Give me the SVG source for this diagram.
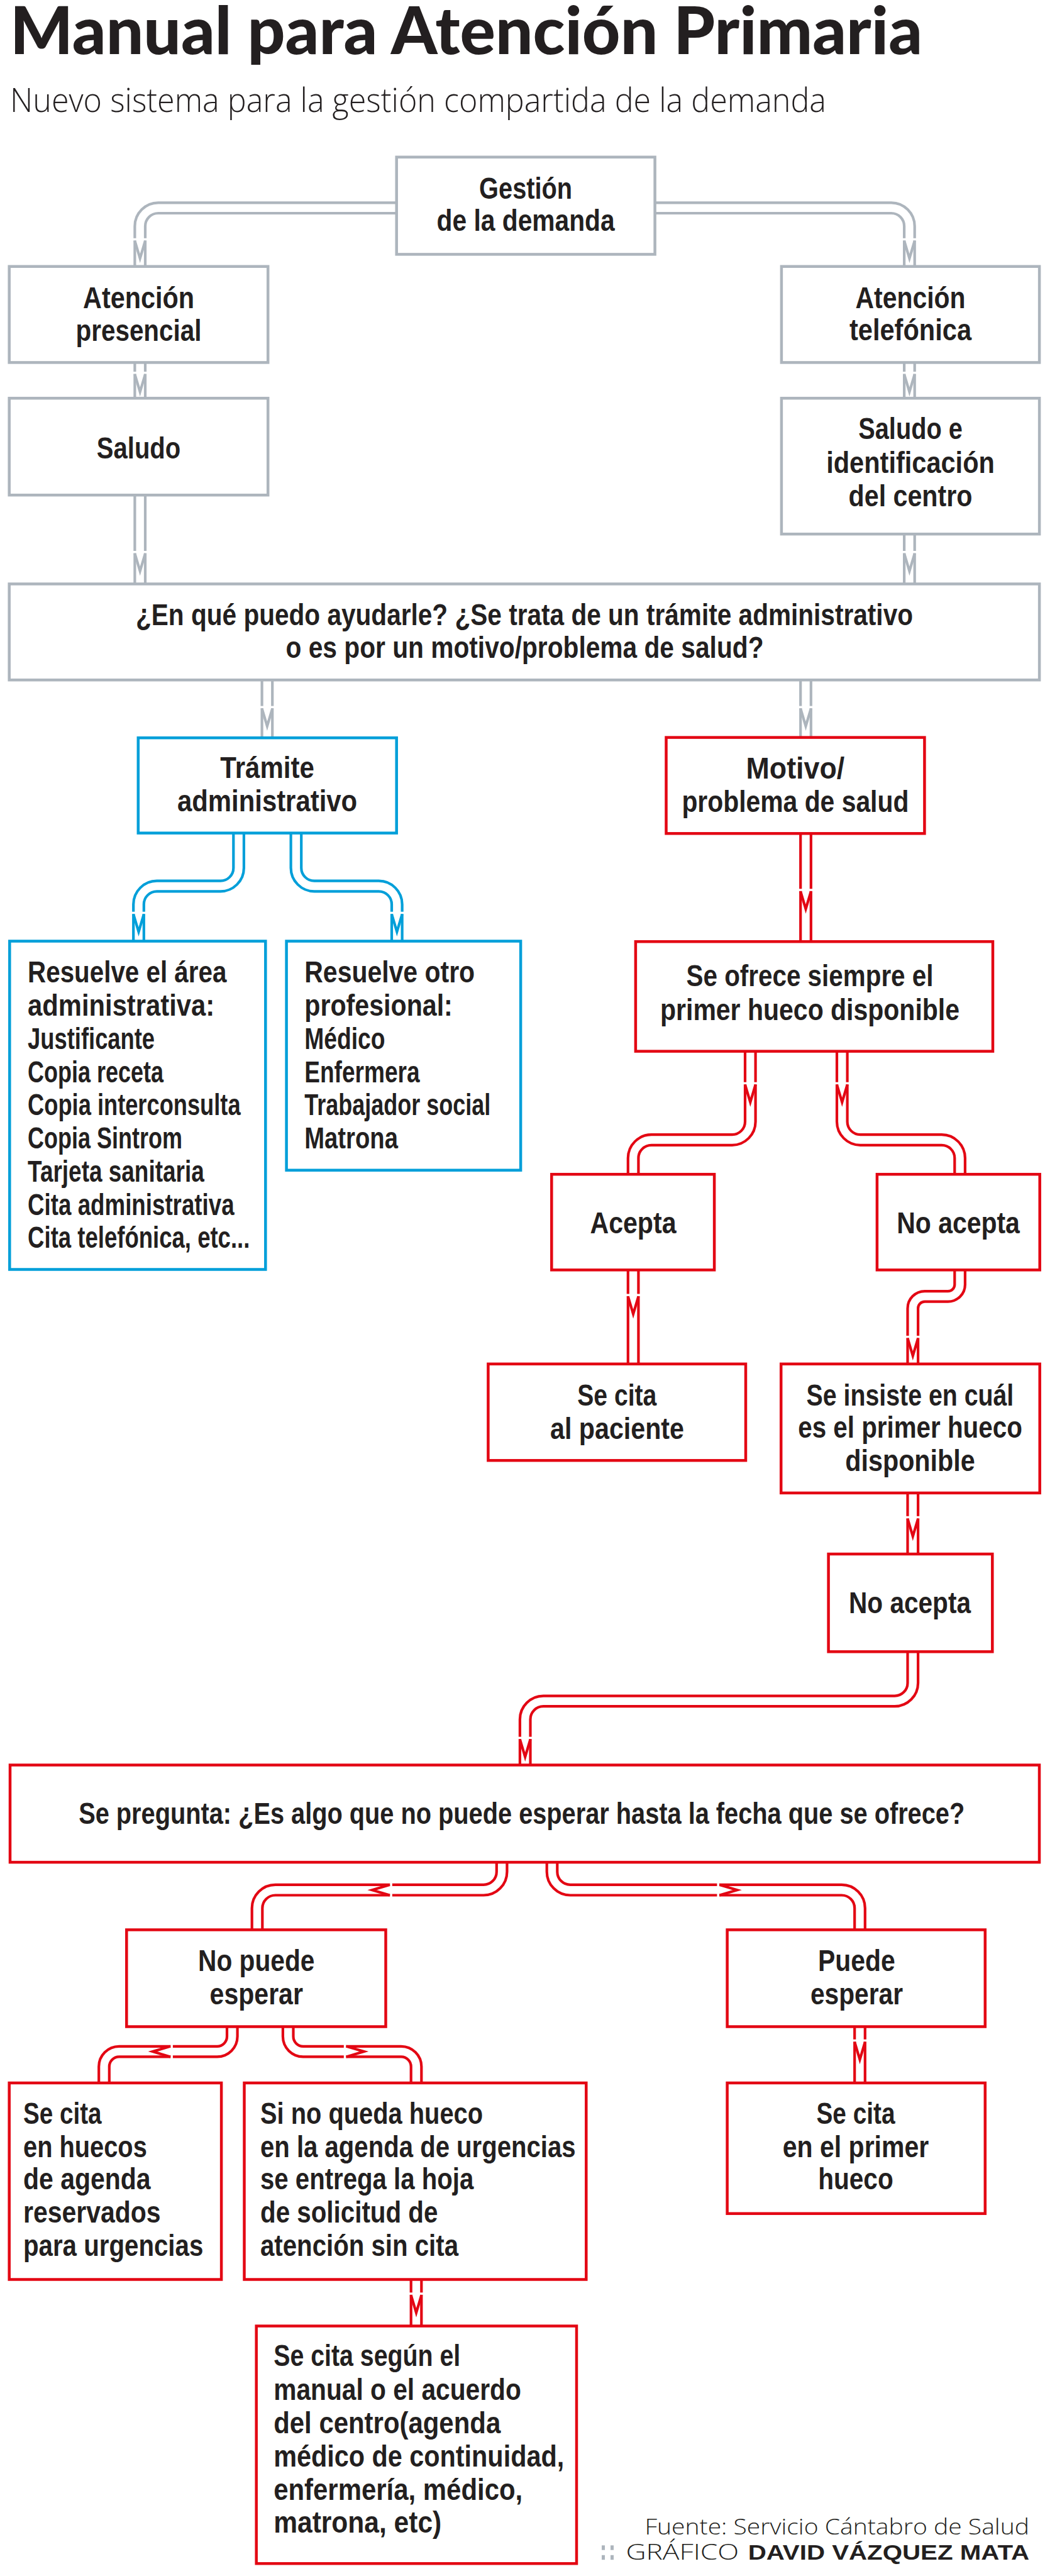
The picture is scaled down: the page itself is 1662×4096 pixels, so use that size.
<svg xmlns="http://www.w3.org/2000/svg" xmlns:xlink="http://www.w3.org/1999/xlink" width="1662" height="4096" viewBox="0 0 1662 4096">
<style>
.t{font-family:"Liberation Sans Narrow","Liberation Sans",Arial,sans-serif;font-weight:700;font-size:49px;fill:#231f20}
.ttl{font-family:"Lato","Liberation Sans",Arial,sans-serif;font-weight:900;font-size:104px;fill:#231f20}
.lt{font-family:"Open Sans","Roboto","Liberation Sans",sans-serif;font-weight:300;fill:#231f20}
.fb{font-family:"Liberation Sans Narrow","Liberation Sans",Arial,sans-serif;font-weight:700;font-size:34px;fill:#231f20}
.bx{fill:#fff;stroke-width:4.5}
.bg{stroke:#adb5bd}.bb{stroke:#009fd9}.br{stroke:#e30613}
.po{fill:none;stroke-width:20.8}
.pi{fill:none;stroke:#fff;stroke-width:12.4}
.cg{stroke:#adb5bd;color:#adb5bd}.cb{stroke:#009fd9;color:#009fd9}.cr{stroke:#e30613;color:#e30613}
</style>
<defs>
<g id="arw">
<rect x="-12" y="-4" width="24" height="3.5" fill="#fff"/>
<polyline points="-8.3,0 0,28 8.3,0" fill="none" stroke="currentColor" stroke-width="4.2" stroke-miterlimit="10"/>
</g>
<path id="p1" d="M630.7,330.7 H251.7 A29,29 0 0 0 222.7,359.7 V423.7"/>
<path id="p2" d="M1041.6,330.7 H1417.4 A29,29 0 0 1 1446.4,359.7 V423.7"/>
<path id="p3" d="M222.7,576.4 V633.2"/>
<path id="p4" d="M1446.4,576.4 V633.2"/>
<path id="p5" d="M222.7,787.2 V928.5"/>
<path id="p6" d="M1446.4,849.2 V928.5"/>
<path id="p7" d="M424.9,1081.2 V1173.2"/>
<path id="p8" d="M1281.5,1081.2 V1172.6"/>
<path id="p9" d="M379.6,1324.6 V1380 A29,29 0 0 1 350.6,1409 H249.5 A29,29 0 0 0 220.5,1438 V1496.5"/>
<path id="p10" d="M470.9,1324.6 V1380 A29,29 0 0 0 499.9,1409 H602.3 A29,29 0 0 1 631.3,1438 V1496.5"/>
<path id="p11" d="M1281.5,1325.3 V1497.2"/>
<path id="p12" d="M1193.3,1671.6 V1783.5 A29,29 0 0 1 1164.3,1812.5 H1036.1 A29,29 0 0 0 1007.1,1841.5 V1867.2"/>
<path id="p13" d="M1339.3,1671.6 V1783.5 A29,29 0 0 0 1368.3,1812.5 H1497.6 A29,29 0 0 1 1526.6,1841.5 V1867.2"/>
<path id="p14" d="M1007.1,2019.2 V2168.8"/>
<path id="p15" d="M1526.6,2019.2 V2042.4 A19,19 0 0 1 1507.6,2061.4 H1470.8 A19,19 0 0 0 1451.8,2080.4 V2168.8"/>
<path id="p16" d="M1451.8,2373.9 V2471"/>
<path id="p17" d="M1451.8,2626.3 V2675.9 A29,29 0 0 1 1422.8,2704.9 H864.2 A29,29 0 0 0 835.2,2733.9 V2806.5"/>
<path id="p18" d="M798.1,2961.1 V2976.2 A29,29 0 0 1 769.1,3005.2 H438 A29,29 0 0 0 409,3034.2 V3068.5"/>
<path id="p19" d="M878,2961.1 V2976.2 A29,29 0 0 0 907,3005.2 H1338.5 A29,29 0 0 1 1367.5,3034.2 V3068.5"/>
<path id="p20" d="M369.3,3222.5 V3238.1 A24,24 0 0 1 345.3,3262.1 H189.5 A24,24 0 0 0 165.5,3286.1 V3312"/>
<path id="p21" d="M458.2,3222.5 V3238.1 A24,24 0 0 0 482.2,3262.1 H638 A24,24 0 0 1 662,3286.1 V3312"/>
<path id="p22" d="M1367.5,3222.5 V3312"/>
<path id="p23" d="M662,3624.5 V3698.5"/>
</defs>
<rect width="1662" height="4096" fill="#fff"/>

<g id="header">
<text class="ttl" x="16" y="85.6" textLength="1451" lengthAdjust="spacingAndGlyphs">Manual para Atención Primaria</text>
<text class="lt" x="16" y="178.3" font-size="54" textLength="1298" lengthAdjust="spacingAndGlyphs">Nuevo sistema para la gestión compartida de la demanda</text>
</g>

<g id="connectors">
<g class="po cg"><use href="#p1"/><use href="#p2"/><use href="#p3"/><use href="#p4"/><use href="#p5"/><use href="#p6"/><use href="#p7"/><use href="#p8"/></g>
<g class="po cb"><use href="#p9"/><use href="#p10"/></g>
<g class="po cr"><use href="#p11"/><use href="#p12"/><use href="#p13"/><use href="#p14"/><use href="#p15"/><use href="#p16"/><use href="#p17"/><use href="#p18"/><use href="#p19"/><use href="#p20"/><use href="#p21"/><use href="#p22"/><use href="#p23"/></g>
<g class="pi"><use href="#p1"/><use href="#p2"/><use href="#p3"/><use href="#p4"/><use href="#p5"/><use href="#p6"/><use href="#p7"/><use href="#p8"/><use href="#p9"/><use href="#p10"/><use href="#p11"/><use href="#p12"/><use href="#p13"/><use href="#p14"/><use href="#p15"/><use href="#p16"/><use href="#p17"/><use href="#p18"/><use href="#p19"/><use href="#p20"/><use href="#p21"/><use href="#p22"/><use href="#p23"/></g>
<g style="color:#adb5bd">
<use href="#arw" transform="translate(222.7,382.8)"/>
<use href="#arw" transform="translate(1446.4,382.8)"/>
<use href="#arw" transform="translate(222.7,595)"/>
<use href="#arw" transform="translate(1446.4,595)"/>
<use href="#arw" transform="translate(222.7,880)"/>
<use href="#arw" transform="translate(1446.4,880)"/>
<use href="#arw" transform="translate(424.9,1126.6)"/>
<use href="#arw" transform="translate(1281.5,1126.6)"/>
</g>
<g style="color:#009fd9">
<use href="#arw" transform="translate(220.5,1453.7)"/>
<use href="#arw" transform="translate(631.3,1453.7)"/>
</g>
<g style="color:#e30613">
<use href="#arw" transform="translate(1281.5,1417.3)"/>
<use href="#arw" transform="translate(1193.3,1724.7)"/>
<use href="#arw" transform="translate(1339.3,1724.7)"/>
<use href="#arw" transform="translate(1007.1,2061.4)"/>
<use href="#arw" transform="translate(1451.8,2127.9)"/>
<use href="#arw" transform="translate(1451.8,2414.8)"/>
<use href="#arw" transform="translate(835.2,2765.6)"/>
<use href="#arw" transform="translate(619.8,3005.2) rotate(90)"/>
<use href="#arw" transform="translate(1144.4,3005.2) rotate(-90)"/>
<use href="#arw" transform="translate(270.9,3262.1) rotate(90)"/>
<use href="#arw" transform="translate(550.8,3262.1) rotate(-90)"/>
<use href="#arw" transform="translate(1367.5,3246.8)"/>
<use href="#arw" transform="translate(662,3649.3)"/>
</g>
</g>

<g id="n-gestion">
<rect class="bx bg" x="630.7" y="249.8" width="410.9" height="154.6"/>
<text class="t" x="762.1" y="315.7" textLength="148" lengthAdjust="spacingAndGlyphs">Gestión</text>
<text class="t" x="694.6" y="367.4" textLength="283" lengthAdjust="spacingAndGlyphs">de la demanda</text>
</g>
<g id="n-presencial">
<rect class="bx bg" x="14.7" y="423.7" width="411.5" height="152.7"/>
<text class="t" x="132" y="489.5" textLength="177" lengthAdjust="spacingAndGlyphs">Atención</text>
<text class="t" x="120.5" y="541.9" textLength="200" lengthAdjust="spacingAndGlyphs">presencial</text>
</g>
<g id="n-saludo">
<rect class="bx bg" x="14.7" y="633.2" width="411.5" height="154"/>
<text class="t" x="153.8" y="728.5" textLength="133.5" lengthAdjust="spacingAndGlyphs">Saludo</text>
</g>
<g id="n-telefonica">
<rect class="bx bg" x="1242.9" y="423.7" width="410.2" height="152.7"/>
<text class="t" x="1360.5" y="489.5" textLength="175" lengthAdjust="spacingAndGlyphs">Atención</text>
<text class="t" x="1351" y="541.2" textLength="194" lengthAdjust="spacingAndGlyphs">telefónica</text>
</g>
<g id="n-saludo-centro">
<rect class="bx bg" x="1242.9" y="633.2" width="410.2" height="216"/>
<text class="t" x="1365.3" y="698.4" textLength="165.5" lengthAdjust="spacingAndGlyphs">Saludo e</text>
<text class="t" x="1314.2" y="751.5" textLength="267.7" lengthAdjust="spacingAndGlyphs">identificación</text>
<text class="t" x="1349.6" y="804.5" textLength="196.8" lengthAdjust="spacingAndGlyphs">del centro</text>
</g>
<g id="n-pregunta-inicial">
<rect class="bx bg" x="14.7" y="928.5" width="1638.4" height="152.7"/>
<text class="t" x="216" y="993.6" textLength="1236" lengthAdjust="spacingAndGlyphs">¿En qué puedo ayudarle? ¿Se trata de un trámite administrativo</text>
<text class="t" x="454.5" y="1045.9" textLength="760" lengthAdjust="spacingAndGlyphs">o es por un motivo/problema de salud?</text>
</g>
<g id="n-tramite">
<rect class="bx bb" x="219.8" y="1173.2" width="410.9" height="151.4"/>
<text class="t" x="350.3" y="1237.1" textLength="149.5" lengthAdjust="spacingAndGlyphs">Trámite</text>
<text class="t" x="281.9" y="1290.1" textLength="286.3" lengthAdjust="spacingAndGlyphs">administrativo</text>
</g>
<g id="n-area-admin">
<rect class="bx bb" x="15.3" y="1496.5" width="407" height="522"/>
<text class="t" x="44.1" y="1562.4" textLength="316.3" lengthAdjust="spacingAndGlyphs">Resuelve el área</text>
<text class="t" x="44.1" y="1614.8" textLength="297" lengthAdjust="spacingAndGlyphs">administrativa:</text>
<text class="t" x="44.1" y="1667.8" textLength="202" lengthAdjust="spacingAndGlyphs">Justificante</text>
<text class="t" x="44.1" y="1720.8" textLength="216" lengthAdjust="spacingAndGlyphs">Copia receta</text>
<text class="t" x="44.1" y="1773.2" textLength="338.5" lengthAdjust="spacingAndGlyphs">Copia interconsulta</text>
<text class="t" x="44.1" y="1826.3" textLength="246" lengthAdjust="spacingAndGlyphs">Copia Sintrom</text>
<text class="t" x="44.1" y="1878.7" textLength="280.6" lengthAdjust="spacingAndGlyphs">Tarjeta sanitaria</text>
<text class="t" x="44.1" y="1931.7" textLength="328.5" lengthAdjust="spacingAndGlyphs">Cita administrativa</text>
<text class="t" x="44.1" y="1984.1" textLength="353.3" lengthAdjust="spacingAndGlyphs">Cita telefónica, etc...</text>
</g>
<g id="n-otro-profesional">
<rect class="bx bb" x="455.6" y="1496.5" width="372.5" height="364.2"/>
<text class="t" x="484.3" y="1562.4" textLength="270.8" lengthAdjust="spacingAndGlyphs">Resuelve otro</text>
<text class="t" x="484.3" y="1614.8" textLength="235.5" lengthAdjust="spacingAndGlyphs">profesional:</text>
<text class="t" x="484.3" y="1667.8" textLength="128.2" lengthAdjust="spacingAndGlyphs">Médico</text>
<text class="t" x="484.3" y="1720.8" textLength="183.2" lengthAdjust="spacingAndGlyphs">Enfermera</text>
<text class="t" x="484.3" y="1773.2" textLength="296" lengthAdjust="spacingAndGlyphs">Trabajador social</text>
<text class="t" x="484.3" y="1826.3" textLength="148.6" lengthAdjust="spacingAndGlyphs">Matrona</text>
</g>
<g id="n-motivo">
<rect class="bx br" x="1059.5" y="1172.6" width="410.9" height="152.7"/>
<text class="t" x="1186.6" y="1237.7" textLength="156.6" lengthAdjust="spacingAndGlyphs">Motivo/</text>
<text class="t" x="1084.4" y="1290.8" textLength="361" lengthAdjust="spacingAndGlyphs">problema de salud</text>
</g>
<g id="n-ofrece">
<rect class="bx br" x="1010.9" y="1497.2" width="568.1" height="174.4"/>
<text class="t" x="1091.5" y="1568.1" textLength="393" lengthAdjust="spacingAndGlyphs">Se ofrece siempre el</text>
<text class="t" x="1050" y="1621.8" textLength="476" lengthAdjust="spacingAndGlyphs">primer hueco disponible</text>
</g>
<g id="n-acepta">
<rect class="bx br" x="877.3" y="1867.2" width="258.8" height="152.1"/>
<text class="t" x="938.5" y="1960.5" textLength="137" lengthAdjust="spacingAndGlyphs">Acepta</text>
</g>
<g id="n-no-acepta">
<rect class="bx br" x="1394.9" y="1867.2" width="258.8" height="152.1"/>
<text class="t" x="1426.2" y="1960.5" textLength="195.7" lengthAdjust="spacingAndGlyphs">No acepta</text>
</g>
<g id="n-cita-paciente">
<rect class="bx br" x="776.4" y="2168.8" width="409.6" height="153.4"/>
<text class="t" x="918.3" y="2234.6" textLength="126" lengthAdjust="spacingAndGlyphs">Se cita</text>
<text class="t" x="875" y="2288.3" textLength="213" lengthAdjust="spacingAndGlyphs">al paciente</text>
</g>
<g id="n-insiste">
<rect class="bx br" x="1242.2" y="2168.8" width="411.5" height="205.1"/>
<text class="t" x="1282.6" y="2234.6" textLength="329.7" lengthAdjust="spacingAndGlyphs">Se insiste en cuál</text>
<text class="t" x="1269.2" y="2286.3" textLength="356.6" lengthAdjust="spacingAndGlyphs">es el primer hueco</text>
<text class="t" x="1344.3" y="2339.4" textLength="206.4" lengthAdjust="spacingAndGlyphs">disponible</text>
</g>
<g id="n-no-acepta-2">
<rect class="bx br" x="1317.6" y="2471" width="260.7" height="155.3"/>
<text class="t" x="1350" y="2565" textLength="194" lengthAdjust="spacingAndGlyphs">No acepta</text>
</g>
<g id="n-se-pregunta">
<rect class="bx br" x="16" y="2806.5" width="1637" height="154.6"/>
<text class="t" x="125.2" y="2899.8" textLength="1409" lengthAdjust="spacingAndGlyphs">Se pregunta: ¿Es algo que no puede esperar hasta la fecha que se ofrece?</text>
</g>
<g id="n-no-puede">
<rect class="bx br" x="201.3" y="3068.5" width="412.2" height="154"/>
<text class="t" x="315.1" y="3134.3" textLength="185.3" lengthAdjust="spacingAndGlyphs">No puede</text>
<text class="t" x="333.6" y="3186.7" textLength="148.3" lengthAdjust="spacingAndGlyphs">esperar</text>
</g>
<g id="n-puede">
<rect class="bx br" x="1156.6" y="3068.5" width="410.2" height="154"/>
<text class="t" x="1301.1" y="3134.3" textLength="122.7" lengthAdjust="spacingAndGlyphs">Puede</text>
<text class="t" x="1289" y="3186.7" textLength="147" lengthAdjust="spacingAndGlyphs">esperar</text>
</g>
<g id="n-huecos-urgencias">
<rect class="bx br" x="14.7" y="3312" width="337.4" height="312.5"/>
<text class="t" x="37" y="3376.5" textLength="124.6" lengthAdjust="spacingAndGlyphs">Se cita</text>
<text class="t" x="37" y="3429.5" textLength="196.8" lengthAdjust="spacingAndGlyphs">en huecos</text>
<text class="t" x="37" y="3481.3" textLength="202.6" lengthAdjust="spacingAndGlyphs">de agenda</text>
<text class="t" x="37" y="3534.3" textLength="218.5" lengthAdjust="spacingAndGlyphs">reservados</text>
<text class="t" x="37" y="3587.3" textLength="286.3" lengthAdjust="spacingAndGlyphs">para urgencias</text>
</g>
<g id="n-sin-hueco">
<rect class="bx br" x="388.5" y="3312" width="543.8" height="312.5"/>
<text class="t" x="414" y="3376.5" textLength="354" lengthAdjust="spacingAndGlyphs">Si no queda hueco</text>
<text class="t" x="414" y="3429.5" textLength="501.6" lengthAdjust="spacingAndGlyphs">en la agenda de urgencias</text>
<text class="t" x="414" y="3481.3" textLength="339.3" lengthAdjust="spacingAndGlyphs">se entrega la hoja</text>
<text class="t" x="414" y="3534.3" textLength="282.4" lengthAdjust="spacingAndGlyphs">de solicitud de</text>
<text class="t" x="414" y="3587.3" textLength="315" lengthAdjust="spacingAndGlyphs">atención sin cita</text>
</g>
<g id="n-primer-hueco">
<rect class="bx br" x="1156.6" y="3312" width="410.2" height="207.7"/>
<text class="t" x="1298.5" y="3376.5" textLength="125" lengthAdjust="spacingAndGlyphs">Se cita</text>
<text class="t" x="1244.7" y="3429.5" textLength="232.6" lengthAdjust="spacingAndGlyphs">en el primer</text>
<text class="t" x="1301.2" y="3481.3" textLength="119.5" lengthAdjust="spacingAndGlyphs">hueco</text>
</g>
<g id="n-segun-manual">
<rect class="bx br" x="407.7" y="3698.5" width="509.3" height="377.7"/>
<text class="t" x="435.2" y="3762.4" textLength="297" lengthAdjust="spacingAndGlyphs">Se cita según el</text>
<text class="t" x="435.2" y="3816.1" textLength="393.6" lengthAdjust="spacingAndGlyphs">manual o el acuerdo</text>
<text class="t" x="435.2" y="3869.1" textLength="361" lengthAdjust="spacingAndGlyphs">del centro(agenda</text>
<text class="t" x="435.2" y="3921.5" textLength="462" lengthAdjust="spacingAndGlyphs">médico de continuidad,</text>
<text class="t" x="435.2" y="3974.6" textLength="396" lengthAdjust="spacingAndGlyphs">enfermería, médico,</text>
<text class="t" x="435.2" y="4027" textLength="267" lengthAdjust="spacingAndGlyphs">matrona, etc)</text>
</g>

<g id="footer">
<text class="lt" x="1025.4" y="4029.5" font-size="34" textLength="611.6" lengthAdjust="spacingAndGlyphs">Fuente: Servicio Cántabro de Salud</text>
<g fill="#adb5bd">
<rect x="957" y="4047.3" width="5" height="7.4"/><rect x="971" y="4047.3" width="5" height="7.4"/>
<rect x="957" y="4062.8" width="5" height="7.4"/><rect x="971" y="4062.8" width="5" height="7.4"/>
</g>
<text class="lt" x="995.5" y="4069.8" font-size="34" textLength="179.7" lengthAdjust="spacingAndGlyphs">GRÁFICO</text>
<text class="fb" x="1189.7" y="4069.8" textLength="447.4" lengthAdjust="spacingAndGlyphs">DAVID VÁZQUEZ MATA</text>
</g>
</svg>
